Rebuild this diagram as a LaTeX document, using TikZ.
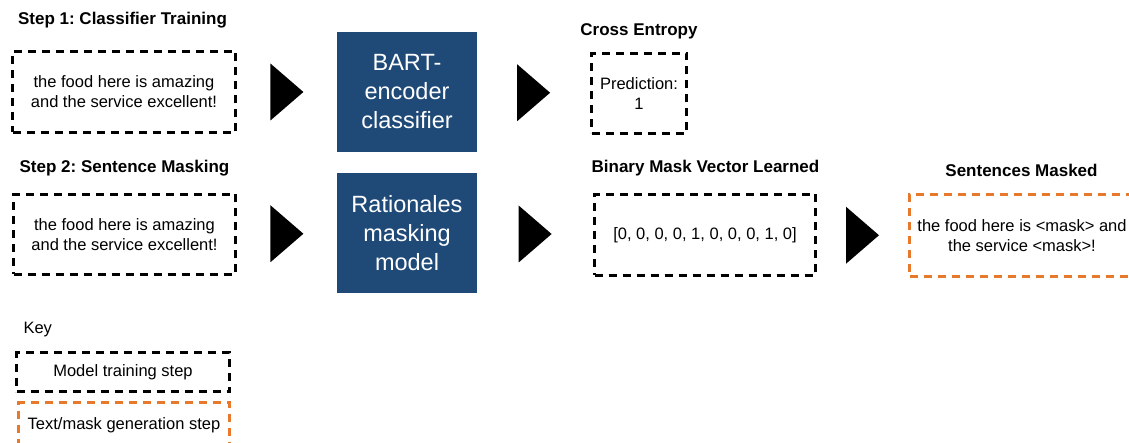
\documentclass[tikz,border=0pt]{standalone}
\usepackage{fontspec}
\setmainfont{Liberation Sans}
\usetikzlibrary{calc}
\definecolor{modelblue}{HTML}{1F4A78}
\definecolor{genorange}{HTML}{E8782A}
\frenchspacing

\begin{document}
\begin{tikzpicture}[x=1pt, y=-1pt,
    title/.style={font=\fontsize{17}{20}\selectfont\bfseries},
    txt/.style={font=\fontsize{16.5}{20}\selectfont, align=center},
    trainbox/.style={txt, draw=black, line width=3pt, dash pattern=on 8pt off 6pt, inner sep=0pt},
    genbox/.style={trainbox, draw=genorange},
    model/.style={fill=modelblue, text=white, font=\fontsize{23.5}{29}\selectfont, align=center,
                  minimum width=140pt, minimum height=120pt, inner sep=0pt}]
    \clip (0,0) rectangle (1129,443);

    % Step 1
    \node[title] (t1) at (122.5,20) {Step 1: Classifier Training};
    \node[trainbox, minimum width=223pt, minimum height=81pt] (in1) at (124,92) {the food here is amazing\\and the service excellent!};
    \node[model] (bart) at (407,92) {BART-\\encoder\\classifier};
    \node[title] (tce) at (639,31) {Cross Entropy};
    \node[trainbox, minimum width=95pt, minimum height=80pt] (pred) at (639,93.5) {Prediction:\\1};

    % Step 2
    \node[title] (t2) at (124.5,168) {Step 2: Sentence Masking};
    \node[trainbox, minimum width=222pt, minimum height=80pt] (in2) at (124.5,234.5) {the food here is amazing\\and the service excellent!};
    \node[model] (rat) at (407,233) {Rationales\\masking\\model};
    \node[title] (tmv) at (705.5,168) {Binary Mask Vector Learned};
    \node[trainbox, minimum width=221pt, minimum height=81pt] (mask) at (705,235) {[0, 0, 0, 0, 1, 0, 0, 0, 1, 0]};
    \node[title] (tsm) at (1021.5,170) {Sentences Masked};
    \node[genbox, minimum width=225pt, minimum height=82pt] (out) at (1022,235.5) {the food here is <mask> and\\the service <mask>!};

    % Arrows
    \foreach \a/\b in {in1/bart, bart/pred, in2/rat, rat/mask, mask/out}
        \fill ($(\a.east)!0.5!(\b.west)$) ++(-16.5,-28.5) -- ++(33,28.5) -- ++(-33,28.5) -- cycle;

    % Key
    \node[txt, anchor=west] (key) at (20,330) {Key};
    \node[trainbox, minimum width=213pt, minimum height=39pt] (k1) at (123,372) {Model training step};
    \node[genbox, minimum width=211pt, minimum height=46pt] (k2) at (124,425.5) {Text/mask generation step};
\end{tikzpicture}
\end{document}
